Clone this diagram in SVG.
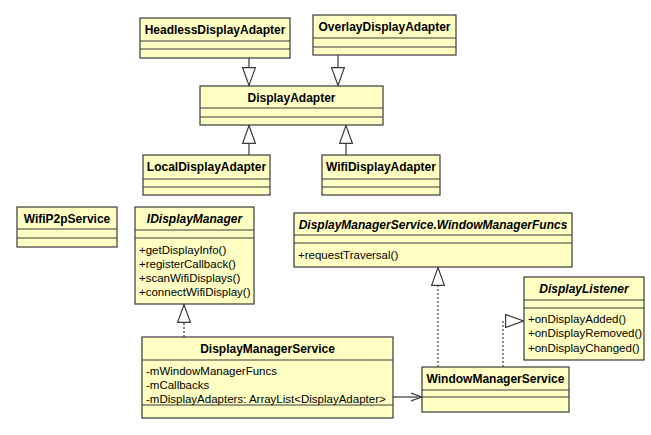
<svg xmlns="http://www.w3.org/2000/svg" width="651" height="435" viewBox="0 0 651 435">
<style>
.box{fill:#FFFFC4;stroke:#3a3a3a;stroke-width:1.2}
.sep{stroke:#3a3a3a;stroke-width:1.2}
.t{font-family:"Liberation Sans",Arial,sans-serif;font-size:12px;font-weight:bold;text-anchor:middle;fill:#000}
.ti{font-family:"Liberation Sans",Arial,sans-serif;font-size:12px;font-weight:bold;font-style:italic;text-anchor:middle;fill:#000}
.m{font-family:"Liberation Sans",Arial,sans-serif;font-size:11.5px;fill:#000}
.c{fill:none;stroke:#3a3a3a;stroke-width:1.2}
.d{fill:none;stroke:#3a3a3a;stroke-width:1.2;stroke-dasharray:2,2}
</style>
<defs>
<marker id="tri" viewBox="0 0 19 14" refX="19" refY="7" markerWidth="19" markerHeight="14" markerUnits="userSpaceOnUse" orient="auto">
<path d="M0.6,0.6 L18.4,7 L0.6,13.4 Z" fill="#fff" stroke="#3a3a3a" stroke-width="1.2"/>
</marker>
<marker id="open" viewBox="0 0 12 10" refX="11" refY="5" markerWidth="12" markerHeight="10" markerUnits="userSpaceOnUse" orient="auto">
<path d="M0,1 L11,5 L0,9" fill="none" stroke="#3a3a3a" stroke-width="1.2"/>
</marker>
</defs>
<rect width="651" height="435" fill="#fff"/>

<g id="connectors">
<line class="c" x1="249" y1="58" x2="249" y2="86" marker-end="url(#tri)"/>
<line class="c" x1="338" y1="55" x2="338" y2="86" marker-end="url(#tri)"/>
<line class="c" x1="249" y1="155" x2="249" y2="125" marker-end="url(#tri)"/>
<line class="c" x1="346" y1="155" x2="346" y2="125" marker-end="url(#tri)"/>
<line class="d" x1="184" y1="337" x2="184" y2="304" marker-end="url(#tri)"/>
<line class="d" x1="438" y1="367" x2="438" y2="267" marker-end="url(#tri)"/>
<polyline class="d" points="503,367 503,321 524,321" marker-end="url(#tri)"/>
<line class="c" x1="393" y1="397" x2="422" y2="397" marker-end="url(#open)"/>
</g>

<g id="HeadlessDisplayAdapter">
<rect class="box" x="140" y="18" width="150" height="40"/>
<line class="sep" x1="140" y1="41" x2="290" y2="41"/>
<line class="sep" x1="140" y1="49" x2="290" y2="49"/>
<text class="t" x="215" y="34">HeadlessDisplayAdapter</text>
</g>

<g id="OverlayDisplayAdapter">
<rect class="box" x="313" y="15" width="143" height="40"/>
<line class="sep" x1="313" y1="38" x2="456" y2="38"/>
<line class="sep" x1="313" y1="47" x2="456" y2="47"/>
<text class="t" x="384.5" y="31">OverlayDisplayAdapter</text>
</g>

<g id="DisplayAdapter">
<rect class="box" x="200" y="86" width="183" height="39"/>
<line class="sep" x1="200" y1="108" x2="383" y2="108"/>
<line class="sep" x1="200" y1="117" x2="383" y2="117"/>
<text class="t" x="291.5" y="102">DisplayAdapter</text>
</g>

<g id="LocalDisplayAdapter">
<rect class="box" x="143" y="155" width="127" height="40"/>
<line class="sep" x1="143" y1="179" x2="270" y2="179"/>
<line class="sep" x1="143" y1="187" x2="270" y2="187"/>
<text class="t" x="206.5" y="171">LocalDisplayAdapter</text>
</g>

<g id="WifiDisplayAdapter">
<rect class="box" x="322" y="155" width="118" height="40"/>
<line class="sep" x1="322" y1="179" x2="440" y2="179"/>
<line class="sep" x1="322" y1="187" x2="440" y2="187"/>
<text class="t" x="381" y="171">WifiDisplayAdapter</text>
</g>

<g id="WifiP2pService">
<rect class="box" x="17" y="207" width="100" height="40"/>
<line class="sep" x1="17" y1="229" x2="117" y2="229"/>
<line class="sep" x1="17" y1="238" x2="117" y2="238"/>
<text class="t" x="67" y="223">WifiP2pService</text>
</g>

<g id="IDisplayManager">
<rect class="box" x="135" y="207" width="119" height="97"/>
<line class="sep" x1="135" y1="230" x2="254" y2="230"/>
<line class="sep" x1="135" y1="238" x2="254" y2="238"/>
<text class="ti" x="194.5" y="223">IDisplayManager</text>
<text class="m" x="139" y="254">+getDisplayInfo()</text>
<text class="m" x="139" y="268">+registerCallback()</text>
<text class="m" x="139" y="282">+scanWifiDisplays()</text>
<text class="m" x="139" y="296">+connectWifiDisplay()</text>
</g>

<g id="WindowManagerFuncs">
<rect class="box" x="294" y="213" width="278" height="54"/>
<line class="sep" x1="294" y1="235" x2="572" y2="235"/>
<line class="sep" x1="294" y1="243" x2="572" y2="243"/>
<text class="ti" x="433" y="229">DisplayManagerService.WindowManagerFuncs</text>
<text class="m" x="298" y="259">+requestTraversal()</text>
</g>

<g id="DisplayListener">
<rect class="box" x="524" y="277" width="120" height="83"/>
<line class="sep" x1="524" y1="300" x2="644" y2="300"/>
<line class="sep" x1="524" y1="308" x2="644" y2="308"/>
<text class="ti" x="584" y="293">DisplayListener</text>
<text class="m" x="528" y="323">+onDisplayAdded()</text>
<text class="m" x="528" y="337">+onDisplayRemoved()</text>
<text class="m" x="528" y="352">+onDisplayChanged()</text>
</g>

<g id="DisplayManagerService">
<rect class="box" x="142" y="337" width="251" height="81"/>
<line class="sep" x1="142" y1="360" x2="393" y2="360"/>
<line class="sep" x1="142" y1="405" x2="393" y2="405"/>
<text class="t" x="267.5" y="353">DisplayManagerService</text>
<text class="m" x="146" y="375">-mWindowManagerFuncs</text>
<text class="m" x="146" y="389">-mCallbacks</text>
<text class="m" x="146" y="403">-mDisplayAdapters: ArrayList&lt;DisplayAdapter&gt;</text>
</g>

<g id="WindowManagerService">
<rect class="box" x="422" y="367" width="147" height="45"/>
<line class="sep" x1="422" y1="390" x2="569" y2="390"/>
<line class="sep" x1="422" y1="397" x2="569" y2="397"/>
<text class="t" x="495.5" y="383">WindowManagerService</text>
</g>
</svg>
